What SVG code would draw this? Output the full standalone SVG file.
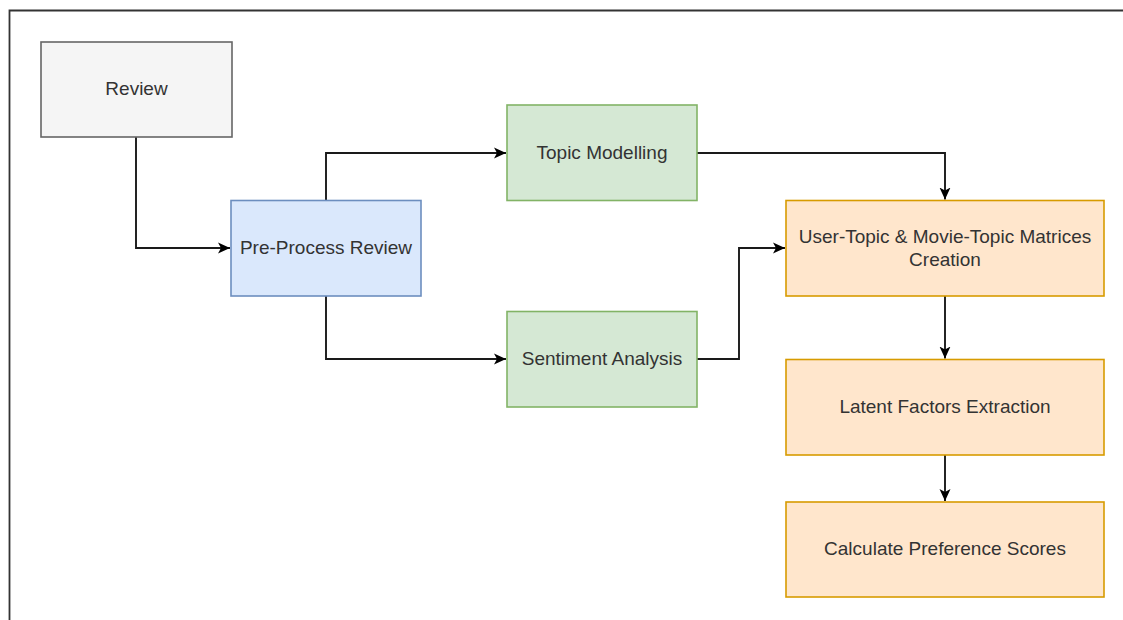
<svg xmlns="http://www.w3.org/2000/svg" width="1123" height="620" viewBox="0 0 1123 620">
  <style>
    .box { stroke-width: 1.6; }
    .gray { fill: #f5f5f5; stroke: #666666; }
    .blue { fill: #dae8fc; stroke: #6c8ebf; }
    .green { fill: #d5e8d4; stroke: #82b366; }
    .orange { fill: #ffe6cc; stroke: #d79b00; }
    .label { font-family: "Liberation Sans", Arial, sans-serif; font-size: 19px; fill: #333333; text-anchor: middle; dominant-baseline: central; }
    .edge { fill: none; stroke: #1a1a1a; stroke-width: 1.9; }
  </style>
  <defs>
    <marker id="arrow" viewBox="0 0 12 12" refX="12" refY="6" markerWidth="12" markerHeight="12" markerUnits="userSpaceOnUse" orient="auto">
      <path d="M0,0.5 L12,6 L0,11.5 L3,6 Z" fill="#000000"/>
    </marker>
  </defs>
  <rect width="1123" height="620" fill="#ffffff"/>
  <!-- outer frame -->
  <path d="M9.5,620 L9.5,10.5 L1123,10.5" fill="none" stroke="#333333" stroke-width="1.8"/>

  <g id="connectors">
    <path class="edge" d="M136,137 L136,248 L230,248" marker-end="url(#arrow)"/>
    <path class="edge" d="M326,200 L326,153 L506,153" marker-end="url(#arrow)"/>
    <path class="edge" d="M326,296 L326,359 L506,359" marker-end="url(#arrow)"/>
    <path class="edge" d="M697,153 L945,153 L945,199.5" marker-end="url(#arrow)"/>
    <path class="edge" d="M697,359 L739,359 L739,248 L785,248" marker-end="url(#arrow)"/>
    <path class="edge" d="M945,296 L945,358.5" marker-end="url(#arrow)"/>
    <path class="edge" d="M945,455 L945,501" marker-end="url(#arrow)"/>
  </g>

  <g id="review">
    <rect class="box gray" x="41" y="42" width="191" height="95"/>
    <text class="label" x="136.5" y="88">Review</text>
  </g>
  <g id="preprocess">
    <rect class="box blue" x="231" y="200.5" width="190" height="95.5"/>
    <text class="label" x="326" y="247">Pre-Process Review</text>
  </g>
  <g id="topic-modelling">
    <rect class="box green" x="507" y="105" width="190" height="95.5"/>
    <text class="label" x="602" y="152">Topic Modelling</text>
  </g>
  <g id="sentiment-analysis">
    <rect class="box green" x="507" y="311.5" width="190" height="95.5"/>
    <text class="label" x="602" y="358">Sentiment Analysis</text>
  </g>
  <g id="matrices-creation">
    <rect class="box orange" x="786" y="200.5" width="318" height="95.5"/>
    <text class="label" x="945" y="236.5">User-Topic &amp; Movie-Topic Matrices</text>
    <text class="label" x="945" y="259.5">Creation</text>
  </g>
  <g id="latent-factors">
    <rect class="box orange" x="786" y="359.5" width="318" height="95.5"/>
    <text class="label" x="945" y="406">Latent Factors Extraction</text>
  </g>
  <g id="preference-scores">
    <rect class="box orange" x="786" y="502" width="318" height="95"/>
    <text class="label" x="945" y="548.5">Calculate Preference Scores</text>
  </g>
</svg>
